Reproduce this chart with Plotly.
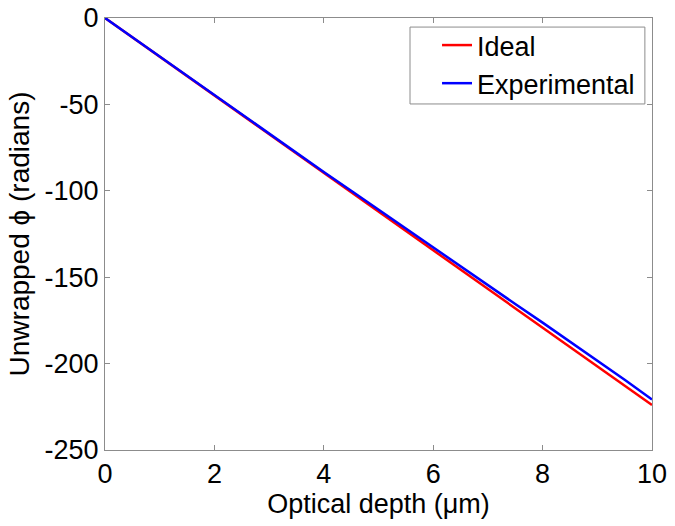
import plotly.graph_objects as go

# optical depth (um)
depth = [0, 0.5, 1, 1.5, 2, 2.5, 3, 3.5, 4, 4.5, 5, 5.5, 6, 6.5, 7, 7.5, 8, 8.5, 9, 9.5, 10]

# unwrapped phase (radians)
ideal = [0, -11.2, -22.4, -33.6, -44.8, -56.0, -67.2, -78.4, -89.6, -100.8, -112.0,
         -123.2, -134.4, -145.6, -156.8, -168.0, -179.2, -190.4, -201.6, -212.8, -224.0]
experimental = [0, -11.0, -22.2, -33.4, -44.6, -55.8, -67.0, -78.1, -89.1, -100.0, -111.0,
                -122.0, -132.8, -143.8, -154.6, -165.5, -176.3, -187.2, -198.1, -209.4, -220.8]

x_ticks = [0, 2, 4, 6, 8, 10]
y_ticks = [0, -50, -100, -150, -200, -250]
y_ticktext = ['0', '-50', '-100', '-150', '-200', '-250']

fig = go.Figure()
fig.add_trace(go.Scatter(x=depth, y=ideal, mode='lines', name='Ideal',
                         line=dict(color='#ff0000', width=2.5)))
fig.add_trace(go.Scatter(x=depth, y=experimental, mode='lines', name='Experimental',
                         line=dict(color='#0000ff', width=2.5)))

axis_style = dict(showgrid=False, zeroline=False, showline=True, mirror='ticks',
                  linecolor='#8c8c8c', linewidth=1, ticks='inside', ticklen=5,
                  tickcolor='#8c8c8c', tickfont=dict(size=27, color='black'),
                  ticklabeloverflow='allow', automargin=False)

fig.update_layout(
    width=675, height=526,
    margin=dict(l=105, r=23, t=18, b=76),
    paper_bgcolor='white', plot_bgcolor='white',
    font=dict(family='Liberation Sans, Arial, sans-serif', size=27, color='black'),
    xaxis=dict(range=[0, 10], tickvals=x_ticks,
               title=dict(text='Optical depth (\u03bcm)', font=dict(size=27), standoff=0),
               **axis_style),
    yaxis=dict(range=[-250, 0], tickvals=y_ticks, ticktext=y_ticktext,
               title=dict(text='Unwrapped \u03d5 (radians)', font=dict(size=28), standoff=6),
               **axis_style),
    legend=dict(x=0.607, y=0.993, xanchor='left', yanchor='top',
                borderwidth=0, bgcolor='rgba(0,0,0,0)',
                font=dict(size=27), tracegroupgap=0),
    shapes=[dict(type='rect', xref='paper', yref='paper',
                 x0=0.5576, x1=0.987, y0=0.801, y1=0.979,
                 line=dict(color='#8c8c8c', width=1), fillcolor='white', layer='below')],
    showlegend=True,
)

# drop the browser's default 8px body margin so the figure sits at the page corner
fig.write_html("out.html", config={'displayModeBar': False},
               post_script="document.body.style.margin = '0px';")
